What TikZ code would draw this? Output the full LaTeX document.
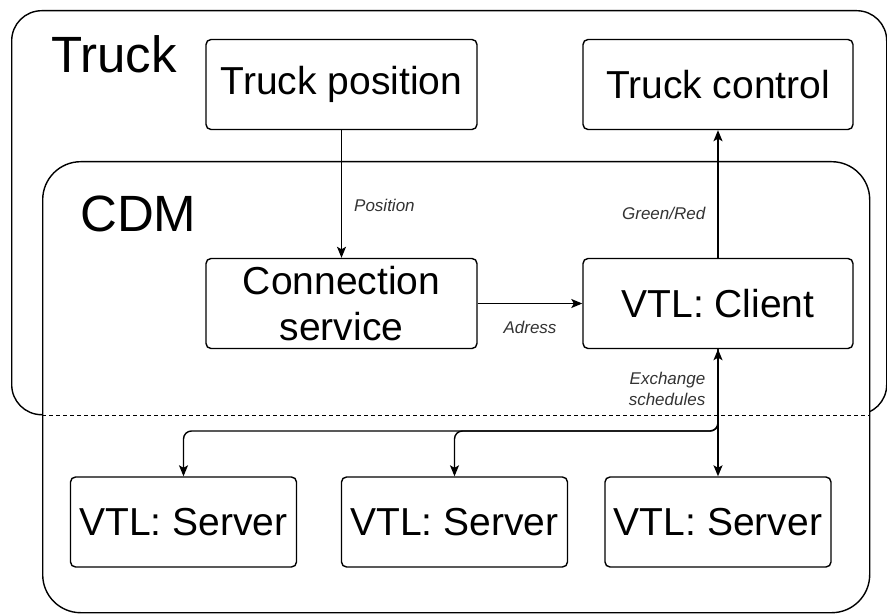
\documentclass[tikz,border=0pt]{standalone}
\usepackage{fontspec}
\setmainfont{Liberation Sans}
\usetikzlibrary{arrows.meta}
\tikzset{
  block/.style={draw, rounded corners=5pt, line width=1.4pt, align=center, inner sep=0pt,
    font=\fontsize{39}{46}\selectfont},
  frame/.style={draw, line width=1.4pt, inner sep=0pt, anchor=north west},
  title/.style={anchor=base west, inner sep=0pt, font=\fontsize{51}{56}\selectfont},
  flow/.style={line width=1.4pt, -{Stealth[length=11pt,width=9pt,inset=2.5pt]}},
  tag/.style={inner sep=0pt, text=black!80, font=\fontsize{17}{21}\selectfont\itshape},
}

\begin{document}
\begin{tikzpicture}[x=1pt,y=-1pt]
    \useasboundingbox (0,0) rectangle (887,615);
    % Outer frames
    \node[frame, rounded corners=30pt, minimum width=875pt, minimum height=404pt] (truck) at (11,10) {};
    \node[frame, rounded corners=38pt, fill=white, minimum width=827pt, minimum height=451pt] (cdm) at (42,161) {};
    \draw[line width=1.4pt, dash pattern=on 4pt off 3pt] (truck.south -| cdm.west) -- (truck.south -| cdm.east);
    \node[title] (trucklbl) at (51,73) {Truck};
    \node[title] (cdmlbl) at (80,232) {CDM};
    % Truck side
    \node[block, minimum width=271pt, minimum height=90pt] (tpos) at (341.5,84.5) {Truck position};
    \node[block, minimum width=270pt, minimum height=90pt] (tctrl) at (718,84.5) {Truck control};
    % CDM side
    \node[block, minimum width=271pt, minimum height=90pt] (conn) at (341.5,303.5) {Connection\\service};
    \node[block, minimum width=270pt, minimum height=90pt] (client) at (718,303.5) {VTL: Client};
    \node[block, minimum width=226pt, minimum height=90pt] (srv1) at (183.5,522) {VTL: Server};
    \node[block, minimum width=226pt, minimum height=90pt] (srv2) at (454.5,522) {VTL: Server};
    \node[block, minimum width=226pt, minimum height=90pt] (srv3) at (718,522) {VTL: Server};
    % Connectors
    \draw[flow] (tpos) -- node[tag, pos=0.59, anchor=west, xshift=12pt] {Position} (conn);
    \draw[flow] (client) -- node[tag, pos=0.35, anchor=east, xshift=-12pt] {Green/Red} (tctrl);
    \draw[flow] (conn) -- node[tag, below=17pt] {Adress} (client);
    \draw[flow, {Stealth[length=11pt,width=9pt,inset=2.5pt]}-{Stealth[length=11pt,width=9pt,inset=2.5pt]}] (client) --
      node[tag, pos=0.31, anchor=east, xshift=-12pt, align=right] {Exchange\\schedules} (srv3);
    \coordinate (bus) at (0,431);
    \draw[flow, rounded corners=8pt] (client.south) |- (srv1.north |- bus) -- (srv1.north);
    \draw[flow, rounded corners=8pt] (client.south) |- (srv2.north |- bus) -- (srv2.north);
\end{tikzpicture}
\end{document}
